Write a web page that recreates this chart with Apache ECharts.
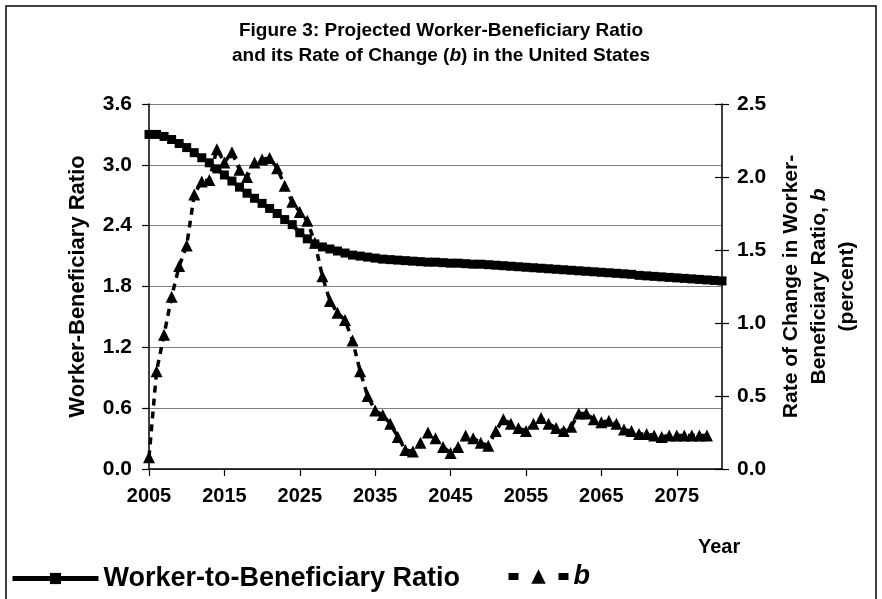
<!DOCTYPE html>
<html>
<head>
<meta charset="utf-8">
<script src="https://cdn.jsdelivr.net/npm/echarts@6/dist/echarts.min.js"></script>
<style>html,body{margin:0;padding:0;background:#fff;}#c{width:882px;height:599px;}</style>
</head>
<body>
<div id="c"></div>
<script>
// years 2005..2081
const years = [];
for (let y = 2005; y <= 2081; y++) years.push(String(y));

const ratioName = 'Worker-to-Beneficiary Ratio';
const bName = 'b';

// Worker-to-beneficiary ratio, 2005..2081 (left axis)
const ratio = [
  3.30, 3.30, 3.28, 3.25, 3.21, 3.17, 3.12, 3.07, 3.02, 2.96,
  2.90, 2.84, 2.78, 2.72, 2.67, 2.62, 2.57, 2.52, 2.46, 2.41,
  2.33, 2.27, 2.22, 2.19, 2.17, 2.15, 2.13, 2.11, 2.10, 2.09,
  2.08, 2.07, 2.065, 2.06, 2.055, 2.05, 2.045, 2.04, 2.04, 2.035,
  2.03, 2.03, 2.025, 2.02, 2.02, 2.015, 2.01, 2.005, 2.00, 1.995,
  1.99, 1.985, 1.98, 1.975, 1.97, 1.965, 1.96, 1.955, 1.95, 1.945,
  1.94, 1.935, 1.93, 1.925, 1.92, 1.91, 1.905, 1.90, 1.895, 1.89,
  1.885, 1.88, 1.875, 1.87, 1.865, 1.86, 1.855
];

// rate of change b (percent), 2005..2079 (right axis)
const bRate = [
  0.08, 0.67, 0.92, 1.18, 1.39, 1.53, 1.88, 1.97, 1.98, 2.19,
  2.10, 2.17, 2.05, 2.00, 2.10, 2.12, 2.13, 2.06, 1.94, 1.83,
  1.76, 1.70, 1.55, 1.32, 1.15, 1.07, 1.02, 0.88, 0.67, 0.50,
  0.40, 0.37, 0.31, 0.22, 0.13, 0.12, 0.18, 0.25, 0.21, 0.15,
  0.11, 0.15, 0.23, 0.21, 0.18, 0.16, 0.26, 0.34, 0.31, 0.28,
  0.26, 0.31, 0.35, 0.31, 0.28, 0.26, 0.29, 0.38, 0.38, 0.34,
  0.32, 0.33, 0.31, 0.27, 0.26, 0.24, 0.24, 0.23, 0.22, 0.23,
  0.23, 0.23, 0.23, 0.23, 0.23
];

const FONT = "'Liberation Sans', Arial, sans-serif";
const chart = echarts.init(document.getElementById('c'), null, {renderer: 'canvas'});

const legendText = {
  fontFamily: FONT, fontSize: 27, fontWeight: 'bold', color: '#000',
  rich: { i: { fontFamily: FONT, fontSize: 27, fontWeight: 'bold', fontStyle: 'italic', color: '#000' } }
};

chart.setOption({
  animation: false,
  backgroundColor: '#ffffff',
  title: {
    text: 'Figure 3: Projected Worker-Beneficiary Ratio\nand its Rate of Change ({i|b}) in the United States',
    left: 'center',
    top: 18,
    padding: 0,
    textStyle: {
      fontFamily: FONT, fontSize: 19, fontWeight: 'bold', color: '#000', lineHeight: 25,
      rich: { i: { fontFamily: FONT, fontSize: 19, fontWeight: 'bold', fontStyle: 'italic', color: '#000', lineHeight: 25 } }
    }
  },
  grid: { left: 149, right: 160, top: 104, bottom: 130, containLabel: false },
  legend: [
    {
      left: 10, top: 565, itemWidth: 86, itemHeight: 14, padding: 0,
      data: [ratioName],
      lineStyle: { width: 5 },
      textStyle: legendText
    },
    {
      left: 505, top: 563, itemWidth: 60, itemHeight: 18, padding: 0,
      data: [bName],
      formatter: function (n) { return '{i|' + n + '}'; },
      lineStyle: { width: 7, type: [10, 40] },
      textStyle: legendText
    }
  ],
  xAxis: {
    type: 'category',
    data: years,
    boundaryGap: false,
    axisLine: { lineStyle: { color: '#000', width: 1.5 } },
    axisTick: { show: true, interval: 9, length: 7, lineStyle: { color: '#000', width: 1.2 } },
    axisLabel: { interval: 9, margin: 17, fontFamily: FONT, fontSize: 20, fontWeight: 'bold', color: '#000' },
    splitLine: { show: false }
  },
  yAxis: [
    {
      type: 'value', min: 0, max: 3.6, interval: 0.6, position: 'left',
      name: 'Worker-Beneficiary Ratio', nameLocation: 'middle', nameRotate: 90, nameGap: 60,
      nameTextStyle: { fontFamily: FONT, fontSize: 22, fontWeight: 'bold', color: '#000' },
      axisLine: { show: true, lineStyle: { color: '#000', width: 1.5 } },
      axisTick: { show: true, length: 7, lineStyle: { color: '#000', width: 1.2 } },
      axisLabel: { margin: 17, formatter: v => v.toFixed(1), fontFamily: FONT, fontSize: 21, fontWeight: 'bold', color: '#000' },
      splitLine: { show: true, lineStyle: { color: '#808080', width: 1.2 } }
    },
    {
      type: 'value', min: 0, max: 2.5, interval: 0.5, position: 'right',
      name: 'Rate of Change in Worker-\nBeneficiary Ratio, {i|b}\n(percent)', nameLocation: 'middle', nameRotate: 90, nameGap: 54,
      nameTextStyle: {
        fontFamily: FONT, fontSize: 21, fontWeight: 'bold', color: '#000', lineHeight: 28, align: 'center',
        rich: { i: { fontFamily: FONT, fontSize: 21, fontWeight: 'bold', fontStyle: 'italic', color: '#000', lineHeight: 28 } }
      },
      axisLine: { show: true, lineStyle: { color: '#000', width: 1.5 } },
      axisTick: { show: true, length: 7, lineStyle: { color: '#000', width: 1.2 } },
      axisLabel: { margin: 15, formatter: v => v.toFixed(1), fontFamily: FONT, fontSize: 21, fontWeight: 'bold', color: '#000' },
      splitLine: { show: false }
    },
    {
      type: 'value', min: 0, max: 2.5, interval: 0.5, position: 'right',
      axisLine: { show: false },
      axisTick: { show: true, inside: true, length: 7, lineStyle: { color: '#000', width: 1.2 } },
      axisLabel: { show: false },
      splitLine: { show: false }
    }
  ],
  graphic: [
    { type: 'rect', shape: { x: 6, y: 6, width: 870, height: 610 }, style: { fill: null, stroke: '#000', lineWidth: 1.5 }, silent: true },
    { type: 'text', left: 698, top: 537, style: { text: 'Year', fontFamily: FONT, fontSize: 20, fontWeight: 'bold', fill: '#000' } }
  ],
  series: [
    {
      name: ratioName, type: 'line', yAxisIndex: 0, data: ratio,
      symbol: 'rect', symbolSize: 9, showAllSymbol: true,
      lineStyle: { color: '#000', width: 4 },
      itemStyle: { color: '#000', borderWidth: 0 },
      z: 3
    },
    {
      name: bName, type: 'line', yAxisIndex: 1, data: bRate,
      symbol: 'triangle', symbolSize: 12, showAllSymbol: true,
      lineStyle: { color: '#000', width: 3.5, type: [7, 6] },
      itemStyle: { color: '#000', borderWidth: 0 },
      z: 2
    }
  ]
});
</script>
</body>
</html>
